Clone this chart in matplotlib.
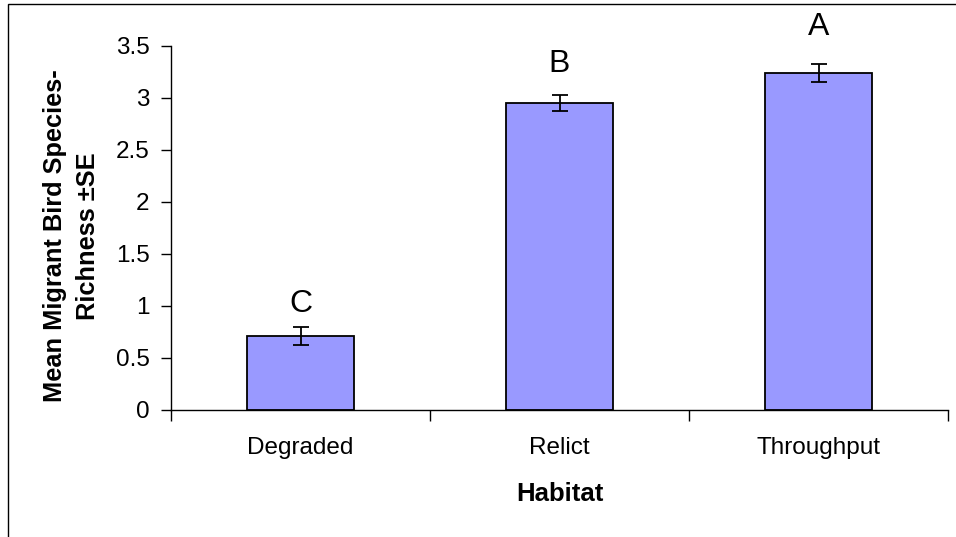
import matplotlib
matplotlib.use("Agg")
import matplotlib.pyplot as plt
from matplotlib.patches import Rectangle
import numpy as np

plt.rcParams['font.family'] = ['Liberation Sans', 'DejaVu Sans']

habitats = ["Degraded", "Relict", "Throughput"]
mean_richness = [0.71, 2.95, 3.24]
std_err = [0.09, 0.08, 0.09]
group_letters = ["C", "B", "A"]
letter_y = [1.02, 3.33, 3.68]
y_ticks = [0, 0.5, 1, 1.5, 2, 2.5, 3, 3.5]
y_tick_labels = ["0", "0.5", "1", "1.5", "2", "2.5", "3", "3.5"]

fig = plt.figure(figsize=(9.56, 5.37), dpi=100)
W, H = 956, 537

# outer chart frame (left and top edges visible)
fig.patches.append(Rectangle((8 / W, -0.1), 1.2, (H - 3.5) / H + 0.1,
                             transform=fig.transFigure, fill=False,
                             edgecolor="black", linewidth=1.0))

ax = fig.add_axes([171 / W, (H - 409.7) / H, (948 - 171) / W, (409.7 - 46) / H])

x = np.arange(len(habitats))
ax.bar(x, mean_richness, width=0.41, color="#9999FF", edgecolor="black",
       linewidth=1.3, zorder=2)
ax.errorbar(x, mean_richness, yerr=std_err, fmt="none", ecolor="black",
            elinewidth=1.3, capsize=5.5, capthick=1.3, zorder=3)

for xi, lab, ly in zip(x, group_letters, letter_y):
    ax.text(xi, ly, lab, ha="center", va="center", fontsize=23)

ax.set_xlim(-0.5, len(habitats) - 0.5)
ax.set_ylim(0, 3.5)

# category boundary ticks and centred labels
ax.set_xticks(np.arange(len(habitats) + 1) - 0.5)
ax.set_xticklabels([])
ax.tick_params(axis="x", which="major", direction="out", length=8, width=1.0)
ax.set_xticks(x, minor=True)
ax.set_xticklabels(habitats, minor=True, fontsize=17.5)
ax.tick_params(axis="x", which="minor", length=0, pad=20)

ax.set_yticks(y_ticks)
ax.set_yticklabels(y_tick_labels, fontsize=17.5)
ax.tick_params(axis="y", direction="out", length=7, width=1.0, pad=8.5)

for side in ("top", "right"):
    ax.spines[side].set_visible(False)
for side in ("left", "bottom"):
    ax.spines[side].set_linewidth(1.0)

ax.set_xlabel("Habitat", fontsize=18.5, fontweight="bold", labelpad=16)
fig.text(71.5 / W, (H - 236) / H, "Mean Migrant Bird Species-\nRichness ±SE",
         rotation=90, ha="center", va="center", fontsize=18.3,
         fontweight="bold", linespacing=1.45, multialignment="center")

fig.savefig("out.png", dpi=100)
